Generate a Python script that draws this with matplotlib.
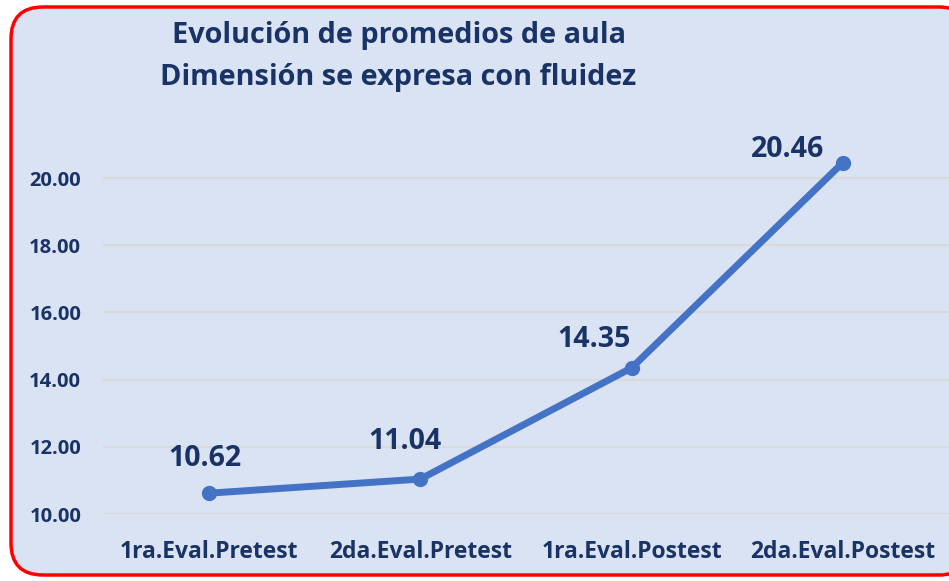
import matplotlib.pyplot as plt
from matplotlib.patches import FancyBboxPatch
from matplotlib.transforms import IdentityTransform

# data
categorias = ['1ra.Eval.Pretest', '2da.Eval.Pretest', '1ra.Eval.Postest', '2da.Eval.Postest']
promedios = [10.62, 11.04, 14.35, 20.46]
ticks_y = [10, 12, 14, 16, 18, 20]
titulo = ['Evolución de promedios de aula', 'Dimensión se expresa con fluidez']

# label offsets in points (placed by hand in the original)
offsets = [(-3, 19.8), (-11, 22), (-27, 15), (-40, 4.3)]

navy = '#1a3366'
azul = '#4472c4'
fondo = '#dae3f3'

plt.rcParams['font.family'] = ['Open Sans', 'DejaVu Sans']

fig = plt.figure(figsize=(9.49, 5.81), dpi=100)
fig.patch.set_facecolor('white')

# rounded red frame (pixel coords)
marco = FancyBboxPatch((11, 6), 960, 568, boxstyle='round,pad=0,rounding_size=32',
                       facecolor=fondo, edgecolor='#ff0000', linewidth=2.5,
                       transform=IdentityTransform(), zorder=-5)
fig.patches.append(marco)

ax = fig.add_axes([0.109, 0.1153, 0.8905, 0.665])
ax.set_facecolor('none')
x = list(range(len(categorias)))
ax.plot(x, promedios, color=azul, linewidth=5, marker='o', markersize=10,
        solid_capstyle='round', zorder=3)

for xi, v, off in zip(x, promedios, offsets):
    ax.annotate(f'{v:.2f}', (xi, v), xytext=off, textcoords='offset points',
                ha='center', va='baseline', fontsize=20.5, fontweight='bold', color=navy)

ax.set_xlim(-0.5, len(categorias) - 0.5)
ax.set_ylim(10, 21.5)
ax.set_yticks(ticks_y)
ax.set_yticklabels([f'{t:.2f}' for t in ticks_y])
ax.set_xticks(x)
ax.set_xticklabels(categorias)
ax.tick_params(axis='y', length=0, pad=16, labelsize=14.5, labelcolor=navy)
ax.tick_params(axis='x', length=0, pad=19, labelsize=16.5, labelcolor=navy)
for lab in ax.get_xticklabels() + ax.get_yticklabels():
    lab.set_fontweight('bold')
ax.grid(axis='y', color='#d9d9d9', linewidth=1.5)
ax.set_axisbelow(True)
for s in ax.spines.values():
    s.set_visible(False)

for linea, yb in zip(titulo, [0.926, 0.854]):
    fig.text(0.42, yb, linea, ha='center', va='baseline', fontsize=20.8,
             fontweight='bold', color=navy)

fig.savefig('out.png', dpi=100)
